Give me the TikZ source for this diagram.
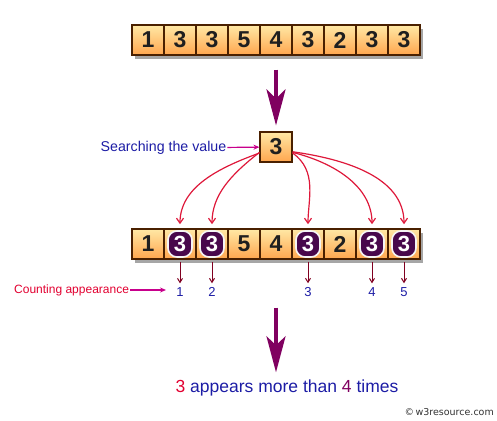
\documentclass[tikz,border=0pt]{standalone}
\usepackage{fontspec}
\setmainfont{Liberation Sans}
\newfontfamily\markfont{DejaVu Sans}
\usetikzlibrary{positioning}
\usetikzlibrary{calc}
\usetikzlibrary{arrows.meta}
\definecolor{cellline}{RGB}{74,32,0}
\definecolor{celltop}{RGB}{255,232,165}
\definecolor{cellbot}{RGB}{255,166,78}
\definecolor{hitfill}{RGB}{72,8,76}
\definecolor{curvered}{RGB}{222,24,58}
\definecolor{textblue}{RGB}{28,28,165}
\definecolor{pointer}{RGB}{200,0,140}
\definecolor{bigpurple}{RGB}{128,0,96}
\definecolor{tickred}{RGB}{128,0,32}
\definecolor{countred}{RGB}{226,0,48}

\begin{document}
\begin{tikzpicture}[x=1pt, y=1pt,
    cell/.style={draw=cellline, line width=1.1pt, minimum width=32pt, minimum height=30pt,
        inner sep=0pt, top color=celltop, bottom color=cellbot,
        font=\fontsize{23}{23}\selectfont\bfseries, text=black!88},
    hit/.style={draw=white!92!gray, line width=1.6pt, fill=hitfill, rounded corners=9pt,
        minimum width=24pt, minimum height=26pt, inner sep=0pt,
        font=\fontsize{22}{22}\selectfont\bfseries, text=white},
    label/.style={font=\fontsize{13}{13}\selectfont, inner sep=1pt},
    curve/.style={draw=curvered, line width=1.2pt, -{Straight Barb[length=5pt,width=7pt]}},
    tick/.style={draw=tickred, line width=1pt, -{Straight Barb[length=4pt,width=5pt]}},
    pointarrow/.style={draw=pointer, line width=1.2pt, -{Stealth[length=6pt,width=5pt]}},
    bigarrow/.style={draw=bigpurple, line width=4pt, -{Stealth[length=36pt,width=19pt,inset=9pt]}}
]
    \useasboundingbox (0,0) rectangle (497,-420);

    % shadows of the two rows
    \fill[black!35] (135,-29) rectangle (423,-59);
    \fill[black!35] (135,-233) rectangle (423,-263);

    % the array and its copy
    \foreach \v [count=\i] in {1,3,3,5,4,3,2,3,3} {
        \node[cell] (t\i) at ({148+32*(\i-1)}, -40) {\v};
        \node[cell] (b\i) at ({148+32*(\i-1)}, -244) {\v};
    }

    % value searched for
    \node[cell] (s) at (276,-147) {3};
    \node[label, font=\fontsize{14.2}{14.2}\selectfont, text=textblue, left=32pt of s, yshift=-1pt] (search) {Searching the value};
    \draw[pointarrow] (search) -- (s);

    \draw[bigarrow, shorten <=14pt, shorten >=6pt] (t5) -- (s);

    % the matches
    \foreach \i/\k/\a/\o in {2/1/-160/200, 3/2/-162/218, 6/3/-20/-35, 8/4/-18/-14, 9/5/-16/-8} {
        \node[hit] (h\k) at (b\i) {3};
        \node[label, text=textblue] (n\k) at (b\i |- 0,-292) {\k};
        \draw[tick, shorten <=2pt, shorten >=3pt] (b\i) -- (n\k);
        \draw[curve, shorten >=6pt] (s.\a) to[out=\o, in=90] (h\k);
    }

    \node[label, font=\fontsize{12}{12}\selectfont, text=countred, left=45pt of n1, yshift=2pt] (count) {Counting appearance};
    \draw[pointarrow, shorten >=14pt] (count) -- (count -| n1);

    % result
    \node[font=\fontsize{17.5}{17.5}\selectfont, text=textblue] (res) at (287,-388)
        {\textcolor{countred}{3} appears more than \textcolor{bigpurple}{4} times};
    \draw[bigarrow, shorten <=48pt, shorten >=4pt] (b5) -- (b5 |- res.north);

    \node[anchor=east, font=\markfont\fontsize{9.5}{9.5}\selectfont, text=black!80, inner sep=0pt] (mark) at (494,-412) {\copyright\,w3resource.com};
\end{tikzpicture}
\end{document}
